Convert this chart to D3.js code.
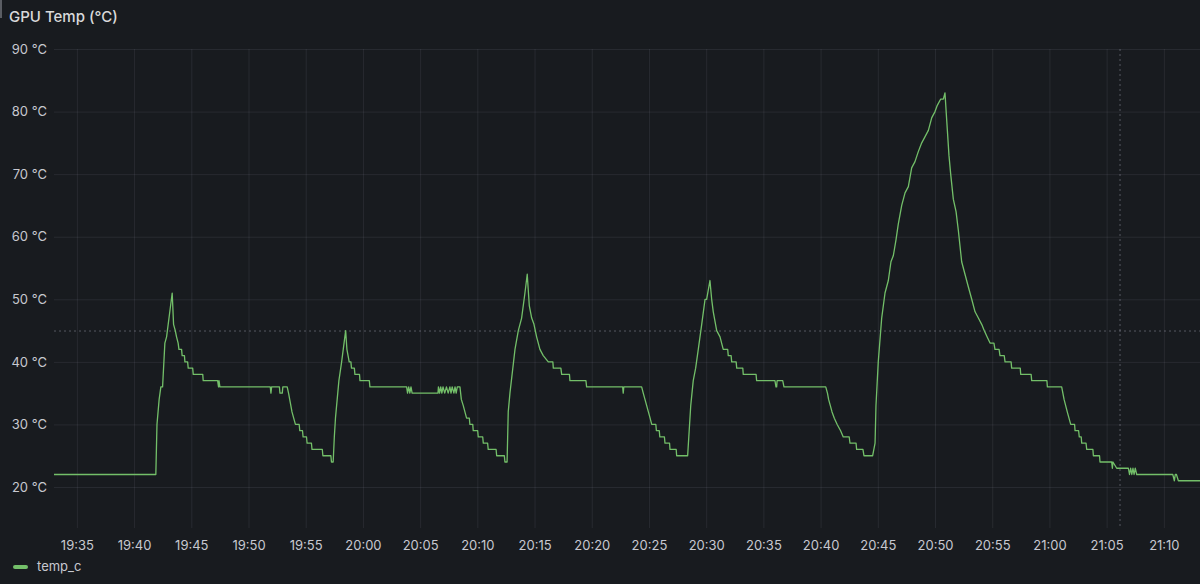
<!DOCTYPE html>
<html>
<head>
<meta charset="utf-8">
<title>GPU Temp</title>
<script src="https://cdn.jsdelivr.net/npm/d3@7"></script>
<style>
    body { margin: 0; background: #181b1f; overflow: hidden; }
    #chart text { font-family: Inter, "Open Sans", sans-serif; }
</style>
</head>
<body>
<div id="chart"></div>
<script>
// chart data
// minutes after 19:00 and the gpu temp at that moment
let sampleMinutes = [
    33, 41.9, 42.0, 42.19, 42.34, 42.49, 42.69, 42.84, 43.33,
    43.45, 43.6, 43.71, 43.85, 43.92, 44.15, 44.2, 44.4, 44.44, 44.68, 44.73, 45.12, 45.17, 46.0, 46.04,
    47.3, 47.38, 47.42, 47.5, 51.7, 51.9, 51.96, 52.02, 52.7, 52.75, 52.95, 53.0, 53.38,
    53.5, 53.6, 53.7, 53.8, 53.95, 54.1, 54.43, 54.48, 54.72, 54.77, 55.07, 55.12, 55.5, 55.55,
    56.45, 56.5, 57.2, 57.25, 57.4,
    57.5, 57.6, 57.9, 58.14, 58.49,
    58.6, 58.7, 58.8, 58.95, 59.0, 59.25, 59.3, 59.7, 59.74, 60.56, 60.61,
    63.82, 63.9, 64.0, 64.1, 64.2, 64.3, 66.56,
    66.6, 66.7, 66.8, 66.9, 67.0, 67.15, 67.3, 67.45, 67.6, 67.7, 67.8, 67.95, 68.05, 68.15, 68.25, 68.48,
    68.6, 68.77, 69.06, 69.3, 69.35, 69.6, 69.64, 70.03, 70.08, 70.47, 70.52, 70.9, 70.95, 71.64, 71.69,
    72.36, 72.41, 72.6,
    72.7, 72.85, 73.29, 73.58, 73.87, 74.16, 74.36,
    74.54, 74.75, 74.95, 75.18, 75.47, 75.76, 76.2, 76.6, 76.64, 77.3, 77.37, 78.05, 78.09, 79.49, 79.55,
    82.7, 82.75, 82.8, 84.36,
    84.5, 84.65, 84.8, 84.95, 85.1, 85.24, 85.6, 85.65, 85.9, 85.95, 86.35, 86.4, 86.8, 86.84, 87.38, 87.42, 88.38,
    88.65, 88.87, 89.08, 89.31, 89.61, 89.9, 90.04, 90.33,
    90.48, 90.62, 90.92, 91.21, 91.49, 91.88, 91.93, 92.18, 92.23, 92.62, 92.67, 93.2, 93.24, 94.36, 94.41,
    96.01, 96.1, 96.16, 96.2, 96.69, 96.8, 100.45,
    100.6, 100.7, 100.85, 101.0, 101.2, 101.45, 101.75, 101.98, 102.5, 102.57, 103.1, 103.15, 103.7, 103.79, 104.55,
    104.76, 104.84, 105.04, 105.34, 105.63, 105.92, 106.15, 106.36, 106.59, 106.79, 107.09, 107.38, 107.67,
    107.96, 108.25, 108.54, 108.84, 109.13, 109.42, 109.71, 110.0, 110.2, 110.5, 110.73, 110.87,
    111.08, 111.22, 111.37, 111.6, 111.84, 112.04, 112.33, 112.62, 112.91, 113.21, 113.5, 113.79,
    114.08, 114.3, 114.55, 114.81, 115.15, 115.24, 115.6, 115.68, 116.05, 116.12, 116.65, 116.7,
    117.45, 117.49, 118.4, 118.45, 119.78, 119.82, 121.07,
    121.28, 121.56, 121.86, 122.2, 122.24, 122.55, 122.61, 122.78, 122.82, 123.2, 123.26, 123.8, 123.84,
    124.38, 124.42, 125.44, 125.5, 125.55, 125.88, 126.9,
    127.0, 127.1, 127.2, 127.3, 127.4, 127.5, 127.63, 130.78, 130.92, 131.0, 131.1, 131.27, 133.2
];

let tempC = [
    22, 22, 30, 34, 36, 36, 43, 44, 51,
    46, 45, 44, 43, 42, 42, 41, 41, 40, 40, 39, 39, 38, 38, 37,
    37, 36, 37, 36, 36, 36, 35, 36, 36, 35, 35, 36, 36,
    35, 34, 33, 32, 31, 30, 30, 29, 29, 28, 28, 27, 27, 26,
    26, 25, 25, 24, 24,
    28, 31, 37, 40, 45,
    42, 41, 40, 40, 39, 39, 38, 38, 37, 37, 36,
    36, 35, 36, 35, 36, 35, 35,
    36, 35, 36, 35, 36, 35, 36, 35, 36, 35, 36, 35, 36, 35, 36, 36,
    34, 33, 31, 31, 30, 30, 29, 29, 28, 28, 27, 27, 26, 26, 25,
    25, 24, 24,
    32, 35, 42, 45, 47, 51, 54,
    49, 47, 46, 44, 42, 41, 40, 40, 39, 39, 38, 38, 37, 37, 36,
    36, 35, 36, 36,
    35, 34, 33, 32, 31, 30, 30, 29, 29, 28, 28, 27, 27, 26, 26, 25, 25,
    33, 37, 39, 42, 46, 50, 50, 53,
    50, 48, 45, 44, 42, 42, 41, 41, 40, 40, 39, 39, 38, 38, 37,
    37, 36, 36, 37, 37, 36, 36,
    35, 34, 33, 32, 31, 30, 29, 28, 28, 27, 27, 26, 26, 25, 25,
    27, 33, 40, 47, 51, 53, 56, 57, 59.5, 62, 65, 67, 68,
    71, 72, 73.6, 75, 76, 77, 79, 80, 81, 82, 82, 83,
    77, 73, 70, 66, 64, 61, 56, 54, 52, 50, 48, 47,
    46, 45, 44, 43, 43, 42, 42, 41, 41, 40, 40, 39,
    39, 38, 38, 37, 37, 36, 36,
    34, 32, 30, 30, 29, 29, 28, 28, 27, 27, 26, 26, 25,
    25, 24, 24, 23, 24, 23, 23,
    22, 23, 22, 23, 22, 23, 22, 22, 21, 22, 22, 21, 21
];

// axis ticks
let yTicks = [20, 30, 40, 50, 60, 70, 80, 90];
let xTickMinutes = [35, 40, 45, 50, 55, 60, 65, 70, 75, 80, 85, 90, 95, 100, 105, 110, 115, 120, 125, 130];

// where the shared crosshair sat when the shot was taken
let crosshairMinute = 126.17;
let crosshairTemp = 44.93;

let seriesName = "temp_c";
let panelTitle = "GPU Temp (°C)";

// turns minutes after 19:00 into a date
function toDate(m) {
    return new Date(2024, 0, 1, 19, 0, 0, Math.round(m * 60000));
}

function drawPanel() {

    let width = 1200, height = 584;

    // plot box inside the panel
    var plot = {left: 54, right: 1200, top: 49, bottom: 528};

    var svg = d3.select("#chart")
        .append("svg")
        .attr("width", width)
        .attr("height", height);

    svg.append("rect")
        .attr("width", width)
        .attr("height", height)
        .attr("fill", "#181b1f");

    // little bit of the panel border in the corner
    svg.append("line")
        .attr("x1", 1).attr("x2", 1)
        .attr("y1", 0).attr("y2", 18)
        .attr("stroke", "#5a5d63")
        .attr("stroke-width", 2);

    // title
    svg.append("text")
        .attr("x", 9)
        .attr("y", 22)
        .attr("fill", "#d8d9da")
        .attr("font-size", "15px")
        .attr("font-weight", 500)
        .text(panelTitle);

    // scales
    var x = d3.scaleTime()
        .domain([toDate(33), toDate(133.16)])
        .range([plot.left, plot.right]);

    var y = d3.scaleLinear()
        .domain([13.45, 90])
        .range([plot.bottom, plot.top]);

    // grid
    let yAxis = d3.axisLeft(y)
        .tickValues(yTicks)
        .tickSize(-(plot.right - plot.left))
        .tickPadding(7)
        .tickFormat(d => d + " °C");

    let gy = svg.append("g")
        .attr("transform", "translate(" + plot.left + ",0)")
        .call(yAxis);

    let xAxis = d3.axisBottom(x)
        .tickValues(xTickMinutes.map(toDate))
        .tickSize(-(plot.bottom - plot.top))
        .tickPadding(13)
        .tickFormat(d3.timeFormat("%H:%M"));

    let gx = svg.append("g")
        .attr("transform", "translate(0," + plot.bottom + ")")
        .call(xAxis);

    // grafana style: no axis line, soft grid, grey labels
    for (let g of [gx, gy]) {
        g.select(".domain").remove();
        g.selectAll(".tick line")
            .attr("stroke", "#ccccdc")
            .attr("stroke-opacity", 0.09);
        g.selectAll(".tick text")
            .attr("fill", "#c7c8d0")
            .attr("font-size", "13px");
    }

    // crosshair
    svg.append("line")
        .attr("x1", plot.left).attr("x2", plot.right)
        .attr("y1", y(crosshairTemp)).attr("y2", y(crosshairTemp))
        .attr("stroke", "#ccccdc")
        .attr("stroke-opacity", 0.35)
        .attr("stroke-dasharray", "2,3");

    svg.append("line")
        .attr("x1", x(toDate(crosshairMinute))).attr("x2", x(toDate(crosshairMinute)))
        .attr("y1", plot.top).attr("y2", plot.bottom)
        .attr("stroke", "#ccccdc")
        .attr("stroke-opacity", 0.35)
        .attr("stroke-dasharray", "2,3");

    // the temperature line
    let points = sampleMinutes.map((m, i) => ({t: toDate(m), v: tempC[i]}));

    let line = d3.line()
        .x(d => x(d.t))
        .y(d => y(d.v));

    svg.append("path")
        .datum(points)
        .attr("fill", "none")
        .attr("stroke", "#73bf69")
        .attr("stroke-width", 1.3)
        .attr("stroke-linejoin", "round")
        .attr("d", line);

    // legend
    svg.append("rect")
        .attr("x", 13)
        .attr("y", 565)
        .attr("width", 15)
        .attr("height", 4)
        .attr("rx", 2)
        .attr("fill", "#73bf69");

    svg.append("text")
        .attr("x", 37)
        .attr("y", 571)
        .attr("fill", "#c7c8d0")
        .attr("font-size", "13px")
        .text(seriesName);
}

drawPanel();
</script>
</body>
</html>
